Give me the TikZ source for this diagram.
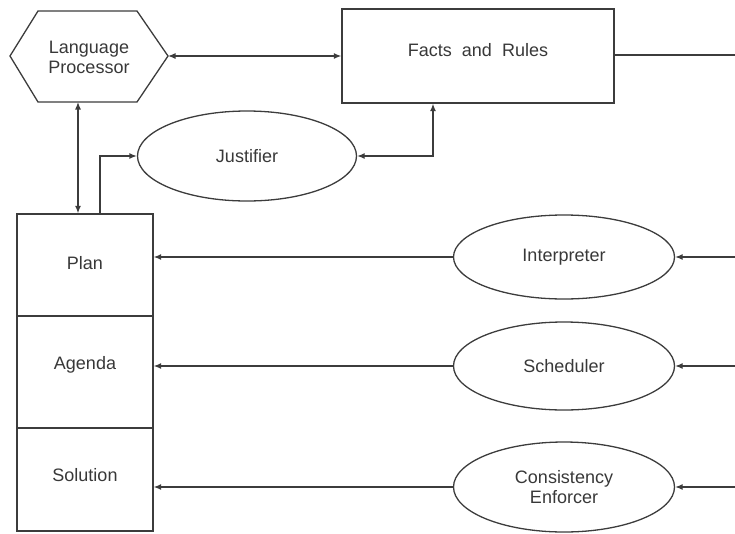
\documentclass[tikz,border=0pt]{standalone}
\usepackage{fontspec}
\setmainfont{Liberation Sans}
\usetikzlibrary{arrows.meta,calc,shapes.geometric}
\definecolor{linec}{HTML}{3C3C3C}
\definecolor{txtc}{HTML}{383838}
\tikzset{
  basefont/.style={font=\fontsize{18}{20}\selectfont, text=txtc},
  shapeline/.style={draw=linec, line width=1.3pt},
  rectbox/.style={shapeline, rectangle, inner sep=0pt, basefont},
  ellbox/.style={shapeline, ellipse, inner sep=0pt, basefont, align=center},
  conn/.style={draw=linec, line width=1.3pt},
  tipA/.tip={Latex[length=7.5pt,width=6pt]},
}
\begin{document}
\begin{tikzpicture}[x=1pt,y=-1pt]
\useasboundingbox (0,0) rectangle (735,533);

% Language Processor hexagon
\coordinate (hW) at (10,56);
\coordinate (hNW) at (38,11);
\coordinate (hNE) at (137,11);
\coordinate (hE) at (168,56);
\coordinate (hSE) at (137,102);
\coordinate (hSW) at (38,102);
\coordinate (hB) at (78,102);
\draw[shapeline] (hW) -- (hNW) -- (hNE) -- (hE) -- (hSE) -- (hSW) -- cycle;
\node[basefont, align=center] (lp) at (89,57) {Language\\Processor};

% Facts and Rules
\node[rectbox, minimum width=272, minimum height=94] (facts) at (478,56) {};
\node[basefont] (factsT) at ([yshift=6]facts.center) {Facts\ \ and\ \ Rules};
\coordinate (fR) at (735,55);

% Justifier
\node[ellbox, minimum width=219, minimum height=90] (just) at (247,156) {Justifier};

% Stack
\node[rectbox, minimum width=136, minimum height=102] (plan) at (85,265) {};
\node[basefont] (planT) at ([yshift=2]plan.center) {Plan};
\node[rectbox, minimum width=136, minimum height=112] (agenda) at (85,372) {};
\node[basefont] (agendaT) at ([yshift=7]agenda.center) {Agenda};
\node[rectbox, minimum width=136, minimum height=103] (solution) at (85,479.5) {};
\node[basefont] (solutionT) at ([yshift=4]solution.center) {Solution};

% Right ellipses
\node[ellbox, minimum width=221, minimum height=84] (interp) at (564,257) {Interpreter};
\node[ellbox, minimum width=221, minimum height=88] (sched) at (564,366) {Scheduler};
\node[ellbox, minimum width=221, minimum height=90] (cons) at (564,487) {Consistency\\Enforcer};
\coordinate (rI) at (735,257);
\coordinate (rS) at (735,366);
\coordinate (rC) at (735,487);

% Connectors
\draw[conn, tipA-tipA] (hE) -- (facts.west);
\draw[conn, tipA-tipA] (hB) -- (hB |- plan.north);
\draw[conn, -tipA] ([xshift=15]plan.north) |- (just.west);
\draw[conn, tipA-tipA] (just.east) -| ([xshift=-45]facts.south);
\draw[conn] (facts.east |- fR) -- (fR);

\draw[conn, -tipA] (interp.west) -- (interp.west -| plan.east);
\draw[conn, -tipA] (sched.west) -- (sched.west -| agenda.east);
\draw[conn, -tipA] (cons.west) -- (cons.west -| solution.east);
\draw[conn, -tipA] (rI) -- (interp.east);
\draw[conn, -tipA] (rS) -- (sched.east);
\draw[conn, -tipA] (rC) -- (cons.east);
\end{tikzpicture}
\end{document}
